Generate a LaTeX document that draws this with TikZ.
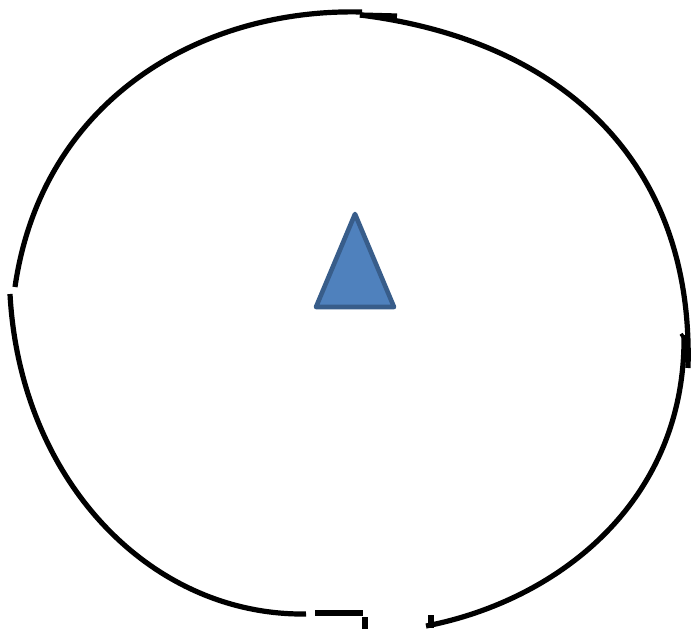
\documentclass[tikz,border=0pt]{standalone}
\definecolor{trifill}{HTML}{4F81BD}
\definecolor{tridraw}{HTML}{385D8A}
\begin{document}
\begin{tikzpicture}[x=1pt,y=-1pt,
  arcline/.style={line width=5.2pt,draw=black},
  tri/.style={line width=4.6pt,draw=tridraw,fill=trifill,line join=round}]
\useasboundingbox (0,0) rectangle (693,629);
% named coordinates
\coordinate (a1s) at (15,287);
\coordinate (a1e) at (362,12);
\coordinate (a2s) at (360,15);
\coordinate (a2e) at (688,368);
\coordinate (a3s) at (684,335);
\coordinate (a3e) at (426,626);
\coordinate (a4s) at (10,294);
\coordinate (a4e) at (306,614);
\coordinate (t1) at (355,214);
\coordinate (t2) at (394,307);
\coordinate (t3) at (316,307);
% arcs
\draw[arcline] (a1s) .. controls (42,100) and (200,8) .. (a1e);
\draw[arcline] (a2s) -- (397,16);
\draw[arcline] (a2s) .. controls (560,40) and (694,160) .. (a2e);
\draw[arcline] (681,337) -- (a3s);
\draw[arcline] (a3s) .. controls (686,500) and (560,600) .. (a3e);
\draw[arcline] (431,615) -- (431,628);
\draw[arcline] (a4s) .. controls (20,480) and (150,616) .. (a4e);
\draw[arcline] (315,613) -- (363,613);
\draw[arcline] (365,617) -- (365,629);
% triangle
\draw[tri] (t1) -- (t2) -- (t3) -- cycle;
\end{tikzpicture}
\end{document}
